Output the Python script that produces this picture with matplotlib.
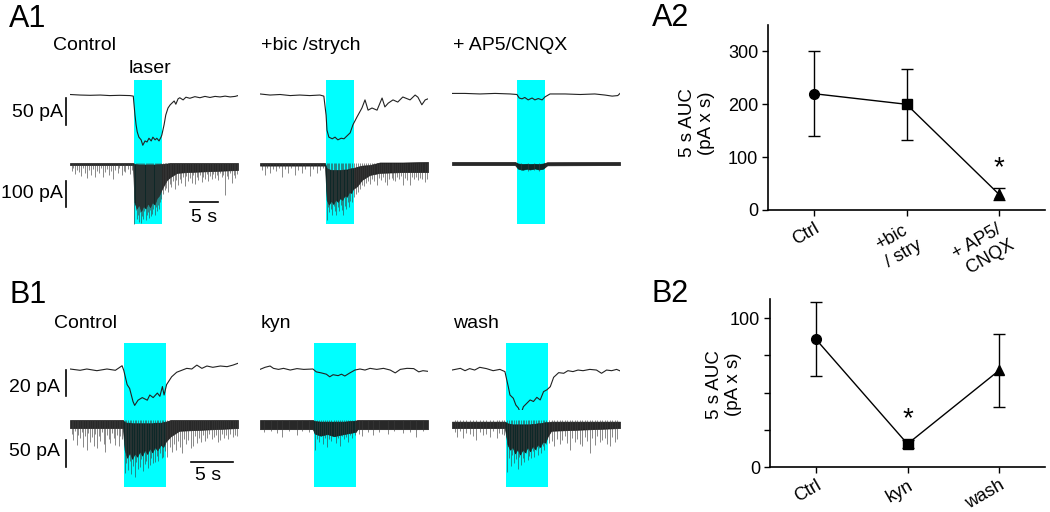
import matplotlib
matplotlib.use('Agg')
import matplotlib.pyplot as plt
from matplotlib.transforms import ScaledTranslation

plt.rcParams['font.family'] = ['Liberation Sans', 'DejaVu Sans']

# ---------------- data ----------------
LASER_S = 5.0  # laser pulse length, s

# A1: 30 s sweeps, laser onset per condition
a1_names = ['Control', '+bic /strych', '+ AP5/CNQX']
a1_laser_on = [11.4, 11.8, 11.6]

# upper (slow) traces: (time s, current pA)
a1_ctrl_up = [(0, 0), (1.8, -1), (3.6, -1.5), (5.4, -1), (7.1, -2), (8.9, -1.5), (10.7, -2), (11.3, -3),
              (11.6, -38), (11.8, -56), (12.0, -69), (12.3, -79), (12.7, -84), (13.0, -94), (13.4, -86),
              (13.75, -88), (14.1, -81), (14.5, -86), (14.8, -79), (15.2, -84), (15.5, -81), (15.9, -86),
              (16.25, -79), (16.4, -75), (16.8, -56), (17.1, -38), (17.5, -25), (17.9, -19), (18.2, -16),
              (18.6, -12), (18.9, -18), (19.3, -8), (19.6, -6), (20.2, -10), (20.7, -5), (21.4, -7),
              (22.3, -4), (23.2, -6), (24.1, -3.5), (25.0, -5.5), (25.9, -3.5), (26.8, -4.5), (27.7, -3),
              (28.6, -4.5), (29.5, -3.5), (30, -2)]
a1_bic_up = [(0, 1), (1.8, -1), (3.6, 0), (5.4, -2), (7.1, -1), (8.9, -2), (10.7, -1), (11.4, -3),
             (11.8, -38), (11.96, -66), (12.3, -79), (12.9, -82), (13.4, -79), (13.9, -84), (14.5, -81),
             (15.0, -82), (15.5, -77), (16.1, -71), (16.6, -56), (17.3, -42), (18.2, -25), (18.75, -10),
             (19.3, -29), (20.0, -25), (20.9, -29), (21.8, -6.5), (22.3, -23), (22.9, -16), (23.75, -10),
             (24.6, -14), (25.5, -4.6), (26.8, -10), (27.7, -1), (28.2, -5), (28.9, -19), (29.5, -10),
             (30, -8)]
a1_ap5_up = [(0, 2), (2.3, 2), (5, 1), (7.7, 2), (10.4, 1), (11.6, 0), (12, -6.5), (12.5, -8), (13, -5.5),
             (13.6, -10), (14.3, -6.5), (14.8, -10), (15.4, -7.5), (16.1, -10), (16.6, -4.5), (17.5, 1),
             (20.2, 1), (22.9, 0), (25.5, 1), (27.3, -1), (28.6, -3), (29.6, -2), (30, 2)]

# lower (fast) traces: noise band (time, top pA, bottom pA) and single events (time, peak pA)
a1_ctrl_band = [(0, 0, -8), (11.25, 0, -8), (11.5, -4, -150), (11.9, -5, -175), (12.3, -6, -160),
                (12.7, -6, -185), (13.1, -6, -165), (13.5, -6, -175), (13.9, -6, -155), (14.3, -6, -170),
                (14.7, -6, -150), (15.1, -6, -160), (15.5, -5, -135), (15.9, -5, -125), (16.3, -4, -105),
                (16.7, -3, -88), (17.3, -2, -65), (17.9, 0, -54), (19.1, 0, -38), (20.9, 0, -35), (30, 0, -27)]
a1_bic_band = [(0, 0, -10), (11.6, 0, -10), (11.9, -20, -142), (12.3, -24, -160), (12.7, -27, -145),
               (13.1, -27, -158), (13.5, -27, -140), (13.9, -27, -150), (14.3, -27, -135), (14.7, -26, -142),
               (15.1, -25, -125), (15.5, -25, -130), (15.9, -22, -112), (16.3, -20, -115), (16.6, -20, -100),
               (17.3, -15, -90), (18.2, -10, -65), (19.6, -8, -46), (21.4, 2, -38), (25.5, 2, -35),
               (30, 4, -35)]
a1_ap5_band = [(0, 4, -8), (11.25, 4, -8), (11.8, -2, -22), (12.6, -4, -26), (13.4, -3, -22), (13.9, -4, -25),
               (14.8, -3, -21), (15.5, -4, -25), (16.25, -2, -22), (17, 3, -9), (30, 4, -8)]
a1_ctrl_spk = [(0.3, -30), (0.6, -18), (0.9, -42), (1.3, -25), (1.6, -35), (2.0, -50), (2.3, -20), (2.7, -38),
               (3.1, -58), (3.4, -28), (3.8, -45), (4.1, -22), (4.5, -52), (4.8, -30), (5.2, -40), (5.6, -18),
               (5.9, -55), (6.3, -33), (6.6, -24), (7.0, -46), (7.4, -30), (7.7, -60), (8.1, -26), (8.5, -40),
               (8.8, -20), (9.2, -48), (9.6, -30), (9.9, -36), (10.3, -22), (10.7, -42), (11.0, -28),
               (11.5, -235), (11.7, -180), (11.9, -215), (12.1, -200), (12.3, -225), (12.5, -190), (12.7, -230),
               (12.9, -205), (13.1, -215), (13.3, -185), (13.5, -220), (13.7, -200), (13.9, -190), (14.1, -212),
               (14.3, -180), (14.5, -205), (14.7, -195), (14.9, -175), (15.1, -200), (15.3, -170), (15.5, -185),
               (15.7, -160), (15.9, -175), (16.1, -150), (16.3, -140),
               (16.6, -120), (16.9, -105), (17.2, -95), (17.5, -110), (17.8, -80), (18.1, -92), (18.4, -70),
               (18.7, -100), (19.0, -65), (19.3, -85), (19.6, -60), (19.9, -78), (20.2, -55), (20.5, -88),
               (20.8, -50), (21.1, -68), (21.4, -58), (21.7, -75), (22.0, -48), (22.3, -80), (22.6, -55),
               (22.9, -65), (23.2, -45), (23.5, -72), (23.8, -52), (24.1, -60), (24.4, -44), (24.7, -70),
               (25.0, -50), (25.3, -62), (25.6, -42), (25.9, -58), (26.2, -48), (26.5, -66), (26.8, -40),
               (27.1, -55), (27.4, -45), (27.7, -123), (28.0, -50), (28.3, -62), (28.6, -40), (28.9, -77),
               (29.2, -48), (29.5, -58), (29.8, -44)]
a1_bic_spk = [(0.4, -25), (0.9, -46), (1.3, -20), (1.8, -38), (2.3, -22), (2.8, -30), (3.4, -18), (3.9, -54),
              (4.4, -24), (5.0, -40), (5.5, -20), (6.25, -46), (6.8, -26), (7.5, -40), (8.0, -22), (8.9, -50),
              (9.5, -24), (10.2, -38), (10.8, -28), (11.3, -20),
              (11.9, -219), (12.15, -170), (12.4, -190), (12.65, -175), (12.9, -200), (13.15, -165),
              (13.4, -185), (13.65, -200), (13.9, -170), (14.15, -185), (14.4, -160), (14.65, -180),
              (14.9, -200), (15.15, -165), (15.4, -175), (15.65, -150), (15.9, -170), (16.15, -145),
              (16.4, -150),
              (16.8, -130), (17.1, -120), (17.5, -110), (17.9, -100), (18.2, -85), (18.6, -90), (19.0, -75),
              (19.3, -70), (19.7, -80), (20.0, -62), (20.4, -70), (20.9, -85), (21.2, -58), (21.6, -66),
              (22.0, -55), (22.4, -72), (22.7, -85), (23.1, -60), (23.5, -58), (23.8, -66), (24.1, -70),
              (24.5, -55), (24.9, -62), (25.2, -50), (25.5, -85), (25.9, -58), (26.3, -64), (26.8, -85),
              (27.1, -54), (27.5, -60), (27.9, -52), (28.2, -65), (28.6, -56), (29.0, -62), (29.5, -73),
              (29.8, -60)]
a1_ap5_spk = [(12.4, -28), (13.5, -30), (14.6, -27), (15.6, -29)]

# B1: 20 s sweeps
b1_names = ['Control', 'kyn', 'wash']
b1_laser_on = [6.43, 6.43, 6.43]

b1_ctrl_up = [(0, 0), (1.2, -1), (2, 0), (3.2, -1.3), (4.4, 0), (5.4, -1), (6.2, 2.5), (6.4, -1), (6.8, -12),
              (7.1, -15), (7.5, -25), (7.7, -28), (8.1, -24), (8.6, -22), (9.2, -24), (9.5, -20), (9.9, -22),
              (10.4, -18.5), (10.7, -21), (11, -13.5), (11.2, -20), (11.5, -12), (12.1, -6), (12.7, -2.5),
              (13.3, -1), (13.9, 0.5), (14.5, 0), (15.1, 3), (15.7, 0.5), (16.3, 2.3), (17, 1.3), (17.9, 2.3),
              (18.7, 1.8), (19.4, 3), (20, 4.4)]
b1_kyn_up = [(0, -0.3), (0.6, 1.3), (1.2, 2.3), (1.6, 0.5), (2.2, -0.3), (2.8, 0.5), (3.6, -0.8), (4.4, 0.3),
             (5.2, -0.3), (6.3, 0), (6.7, -2.2), (7.3, -3), (7.9, -4), (8.3, -6), (8.7, -4.4), (9.3, -5.1),
             (9.7, -4), (10.1, -5.4), (10.7, -3), (11.3, -0.8), (11.9, 0), (12.5, -0.8), (13.1, 0.5),
             (13.9, -0.3), (14.7, 0.5), (15.5, -0.8), (16.1, -3), (16.7, -0.3), (17.5, 0.5), (18.3, 0.3),
             (18.9, -2.2), (19.4, -1.3), (20, -1.8)]
b1_wash_up = [(0, -0.8), (1, 0.5), (1.55, -1.3), (2.1, 0.3), (2.7, -0.8), (3.3, 1.3), (4.1, 0.3), (4.9, -1.3),
              (5.7, -0.3), (6.3, -2), (6.7, -13.6), (6.9, -20), (7.3, -22.5), (7.6, -27.7), (7.9, -30),
              (8.2, -34.6), (8.5, -29), (8.9, -26.4), (9.3, -23.8), (9.7, -25), (10.1, -21.8), (10.5, -23.8),
              (10.9, -17.4), (11.3, -16), (11.7, -13.6), (12.1, -6.4), (12.7, -2.8), (13.3, -3.3), (13.8, -1.3),
              (14.4, -2), (15, -0.8), (15.6, -1.3), (16.4, -0.3), (17.2, -0.8), (17.8, -3.3), (18.4, -0.8),
              (19, -1.3), (19.6, -0.3), (20.2, -2)]

b1_ctrl_band = [(0, 0, -15), (6.3, 0, -15), (6.5, -4, -55), (6.8, -5, -70), (7.1, -5, -60), (7.4, -6, -72),
                (7.7, -6, -62), (8.0, -6, -68), (8.3, -6, -58), (8.6, -6, -66), (8.9, -6, -55), (9.2, -6, -63),
                (9.5, -6, -52), (9.8, -6, -60), (10.1, -5, -50), (10.4, -5, -56), (10.8, -5, -46),
                (11.1, -4, -50), (11.4, -3, -40), (12, 0, -30), (13, 0, -20), (20, 0, -15)]
b1_kyn_band = [(0, 0, -17), (6.3, 0, -17), (6.5, -2, -25), (7.2, -3, -29), (8, -3, -26), (8.8, -3, -30),
               (10, -3, -26), (11.4, -1, -22), (11.6, 0, -17), (20, 0, -17)]
b1_wash_band = [(0, -3, -15), (6.3, -3, -15), (6.6, -6, -45), (6.9, -7, -55), (7.2, -8, -50), (7.5, -8, -62),
                (7.8, -8, -54), (8.1, -8, -64), (8.4, -8, -55), (8.7, -8, -60), (9.0, -8, -50), (9.3, -8, -58),
                (9.6, -7, -48), (9.9, -7, -54), (10.2, -6, -45), (10.5, -6, -50), (10.8, -5, -40),
                (11.1, -4, -42), (11.4, -4, -30), (11.8, -3, -20), (20, -3, -15)]
b1_ctrl_spk = [(0.2, -25), (0.4, -37), (0.6, -20), (0.8, -46), (1.0, -28), (1.2, -33), (1.4, -22), (1.6, -50),
               (1.8, -30), (2.0, -56), (2.2, -24), (2.4, -40), (2.6, -32), (2.8, -48), (3.0, -26), (3.2, -52),
               (3.4, -30), (3.6, -38), (3.8, -22), (4.0, -44), (4.2, -59), (4.4, -28), (4.6, -36), (4.8, -42),
               (5.0, -24), (5.2, -33), (5.4, -46), (5.6, -27), (5.8, -48), (6.0, -30), (6.2, -36),
               (6.5, -98), (6.7, -80), (6.9, -93), (7.1, -75), (7.3, -100), (7.5, -85), (7.7, -106), (7.9, -78),
               (8.1, -90), (8.3, -87), (8.5, -72), (8.7, -95), (8.9, -82), (9.1, -76), (9.3, -88), (9.5, -84),
               (9.7, -70), (9.9, -80), (10.1, -78), (10.3, -66), (10.5, -75), (10.7, -62), (10.9, -70),
               (11.1, -68), (11.3, -58),
               (11.6, -68), (11.85, -50), (12.1, -60), (12.35, -45), (12.6, -56), (12.85, -38), (13.1, -50),
               (13.35, -61), (13.6, -36), (13.85, -44), (14.1, -37), (14.35, -52), (14.6, -48), (14.85, -30),
               (15.1, -42), (15.35, -34), (15.6, -40), (15.85, -28), (16.1, -38), (16.35, -34), (16.6, -26),
               (16.85, -36), (17.1, -31), (17.35, -28), (17.6, -40), (17.85, -37), (18.1, -26), (18.35, -33),
               (18.6, -28), (18.85, -36), (19.1, -25), (19.4, -31), (19.7, -27), (19.9, -30)]
b1_kyn_spk = [(0.5, -22), (1.3, -20), (2.0, -24), (2.6, -31), (3.4, -21), (4.4, -28), (5.0, -20), (5.8, -23),
              (6.5, -55), (6.75, -35), (7.0, -40), (7.25, -30), (7.5, -45), (7.75, -33), (8.0, -50), (8.25, -36),
              (8.5, -38), (8.75, -30), (9.0, -42), (9.25, -34), (9.5, -48), (9.75, -30), (10.0, -36),
              (10.25, -32), (10.5, -40), (10.75, -28), (11.0, -33), (11.25, -27),
              (11.8, -26), (12.2, -30), (12.8, -22), (13.5, -28), (14.2, -23), (15.2, -26), (16.0, -21),
              (17, -24), (17.8, -22), (18.6, -32), (19.4, -21)]
b1_wash_spk = [(0.3, -22), (0.56, -31), (0.9, -20), (1.35, -34), (1.7, -24), (2.1, -25), (2.5, -30), (2.9, -37),
               (3.3, -22), (3.7, -28), (4.1, -26), (4.5, -31), (4.9, -21), (5.3, -34), (5.6, -24), (5.9, -25),
               (6.2, -28),
               (6.6, -96), (6.8, -70), (7.0, -85), (7.2, -65), (7.4, -80), (7.6, -72), (7.8, -90), (8.0, -68),
               (8.2, -83), (8.4, -70), (8.6, -78), (8.8, -62), (9.0, -74), (9.2, -66), (9.4, -70), (9.6, -58),
               (9.8, -68), (10.0, -55), (10.2, -64), (10.4, -52), (10.6, -61), (10.8, -48), (11.0, -55),
               (11.2, -45),
               (11.6, -43), (11.9, -38), (12.2, -49), (12.5, -35), (12.8, -44), (13.1, -37), (13.4, -30),
               (13.7, -42), (14.0, -56), (14.3, -33), (14.6, -40), (14.9, -36), (15.2, -44), (15.5, -49),
               (15.8, -32), (16.1, -38), (16.4, -62), (16.7, -34), (17.0, -46), (17.3, -30), (17.6, -40),
               (17.9, -37), (18.2, -33), (18.5, -45), (18.8, -49), (19.1, -31), (19.4, -40), (19.7, -36),
               (19.95, -43)]

# A2 / B2 summary (mean, SEM) of 5 s AUC, pA x s
a2_labels = ['Ctrl', '+bic\n/ stry', '+ AP5/\n CNQX']
a2_mean = [220, 200, 30]
a2_err = [80, 67, 11]
b2_labels = ['Ctrl', 'kyn', 'wash']
b2_mean = [86, 15.5, 65]
b2_err = [25, 2.5, 24.5]
markers = ['o', 's', '^']

# ---------------- layout ----------------
W, H = 1050, 512
fig = plt.figure(figsize=(W / 100, H / 100), dpi=100)
CYAN = '#00ffff'


def px_axes(x0, y0, x1, y1):
    return fig.add_axes([x0 / W, 1 - y1 / H, (x1 - x0) / W, (y1 - y0) / H])


def ptext(x, y, s, **kw):
    kw.setdefault('fontsize', 14)
    fig.text(x / W, 1 - y / H, s, **kw)


def trace_axes(x0, dur, px_s, y0, y1, base, px_pa):
    ax = px_axes(x0, y0, x0 + dur * px_s, y1)
    ax.set_xlim(0, dur)
    ax.set_ylim(-(y1 - base) / px_pa, (base - y0) / px_pa)
    ax.axis('off')
    return ax


def draw_condition(x0, dur, px_s, laser_on, cyan_y, up_geom, lo_geom, up, band, spikes):
    bg = px_axes(x0, cyan_y[0], x0 + dur * px_s, cyan_y[1])
    bg.set_xlim(0, dur)
    bg.axis('off')
    bg.axvspan(laser_on, laser_on + LASER_S, color=CYAN, lw=0)

    ax_up = trace_axes(x0, dur, px_s, *up_geom)
    t, i = zip(*up)
    ax_up.plot(t, i, color='#222222', lw=0.8)

    ax_lo = trace_axes(x0, dur, px_s, *lo_geom)
    st, sv = zip(*spikes)
    ax_lo.vlines(st, 0, sv, color='#3a3a3a', lw=0.6, alpha=0.7)
    tb, top, bot = zip(*band)
    ax_lo.fill_between(tb, bot, top, color='#101010', lw=0.5, alpha=0.9)
    return ax_up, ax_lo


# ---- A1 ----
A_PX_S = 5.6
a1_up = [a1_ctrl_up, a1_bic_up, a1_ap5_up]
a1_band = [a1_ctrl_band, a1_bic_band, a1_ap5_band]
a1_spk = [a1_ctrl_spk, a1_bic_spk, a1_ap5_spk]
a_axes = []
for k, x0 in enumerate([70, 260, 452]):
    a_axes.append(draw_condition(x0, 30, A_PX_S, a1_laser_on[k], (80, 224),
                                 (75, 155, 94.5, 0.54), (155, 235, 163, 0.26),
                                 a1_up[k], a1_band[k], a1_spk[k]))
    ptext(x0 - 17 if k == 0 else x0 + 1, 50, a1_names[k], va='baseline')
ptext(129, 73, 'laser', va='baseline')

up, lo = a_axes[0]
bx = -4 / A_PX_S
up.plot([bx, bx], [-6.5, -56.5], color='k', lw=1.2, clip_on=False)
lo.plot([bx, bx], [-69, -169], color='k', lw=1.2, clip_on=False)
lo.plot([21.4, 26.4], [-150, -150], color='k', lw=1.2, clip_on=False)
ptext(63, 117, '50 pA', ha='right', va='baseline')
ptext(63, 198, '100 pA', ha='right', va='baseline')
ptext(204, 222, '5 s', ha='center', va='baseline')

# ---- B1 ----
B_PX_S = 8.4
b1_up = [b1_ctrl_up, b1_kyn_up, b1_wash_up]
b1_band = [b1_ctrl_band, b1_kyn_band, b1_wash_band]
b1_spk = [b1_ctrl_spk, b1_kyn_spk, b1_wash_spk]
b_axes = []
for k, x0 in enumerate([70, 260, 452]):
    b_axes.append(draw_condition(x0, 20, B_PX_S, b1_laser_on[k], (343, 487),
                                 (335, 410, 369, 1.3), (410, 495, 420, 0.54),
                                 b1_up[k], b1_band[k], b1_spk[k]))
    ptext(x0 - 16 if k == 0 else x0 + 1, 328, b1_names[k], va='baseline')

up, lo = b_axes[0]
bx = -4 / B_PX_S
up.plot([bx, bx], [-0.8, -20.8], color='k', lw=1.2, clip_on=False)
lo.plot([bx, bx], [-37, -87], color='k', lw=1.2, clip_on=False)
lo.plot([14.4, 19.4], [-77.8, -77.8], color='k', lw=1.2, clip_on=False)
ptext(60, 392, '20 pA', ha='right', va='baseline')
ptext(60, 456, '50 pA', ha='right', va='baseline')
ptext(208, 480, '5 s', ha='center', va='baseline')

# panel letters
for x, y, s in [(9, 27, 'A1'), (9, 303, 'B1'), (652, 26, 'A2'), (652, 302, 'B2')]:
    ptext(x, y, s, fontsize=22, va='baseline')


# ---- A2 / B2 ----
def summary(ax, labels, mean, err, ylim, yticks, yticklabels, star_idx, star_y, lab_x, lab_y):
    xs = range(len(mean))
    ax.plot(xs, mean, color='k', lw=1)
    for i in xs:
        ax.errorbar(i, mean[i], yerr=err[i], fmt=markers[i], color='k', ms=7, capsize=4,
                    elinewidth=1, capthick=1)
    ax.set_xlim(-0.5, 2.5)
    ax.set_ylim(*ylim)
    ax.set_yticks(yticks)
    ax.set_yticklabels(yticklabels)
    ax.set_xticks(list(xs))
    ax.set_xticklabels(labels, rotation=30, ha='right', rotation_mode='anchor', multialignment='left')
    for lbl in ax.get_xticklabels():
        lbl.set_transform(lbl.get_transform() + ScaledTranslation(0.08, -0.04, fig.dpi_scale_trans))
    for s in ['top', 'right']:
        ax.spines[s].set_visible(False)
    for s in ['left', 'bottom']:
        ax.spines[s].set_linewidth(1.2)
    ax.tick_params(direction='out', length=4, width=1, labelsize=13, pad=3)
    ax.set_ylabel('5 s AUC\n(pA x s)', fontsize=13.5)
    ax.yaxis.set_label_coords(lab_x, lab_y)
    ax.text(star_idx, star_y, '*', ha='center', va='center', fontsize=20)
    ax.patch.set_alpha(0)


ax_a2 = px_axes(768, 25, 1045, 210)
summary(ax_a2, a2_labels, a2_mean, a2_err, (0, 350), [0, 100, 200, 300], ['0', '100', '200', '300'],
        2, 80, -0.19, 0.47)
ax_b2 = px_axes(770, 299, 1045, 467)
summary(ax_b2, b2_labels, b2_mean, b2_err, (0, 113), [0, 25, 50, 75, 100], ['0', '', '', '', '100'],
        1, 32, -0.10, 0.49)

fig.savefig('out.png', dpi=100)
